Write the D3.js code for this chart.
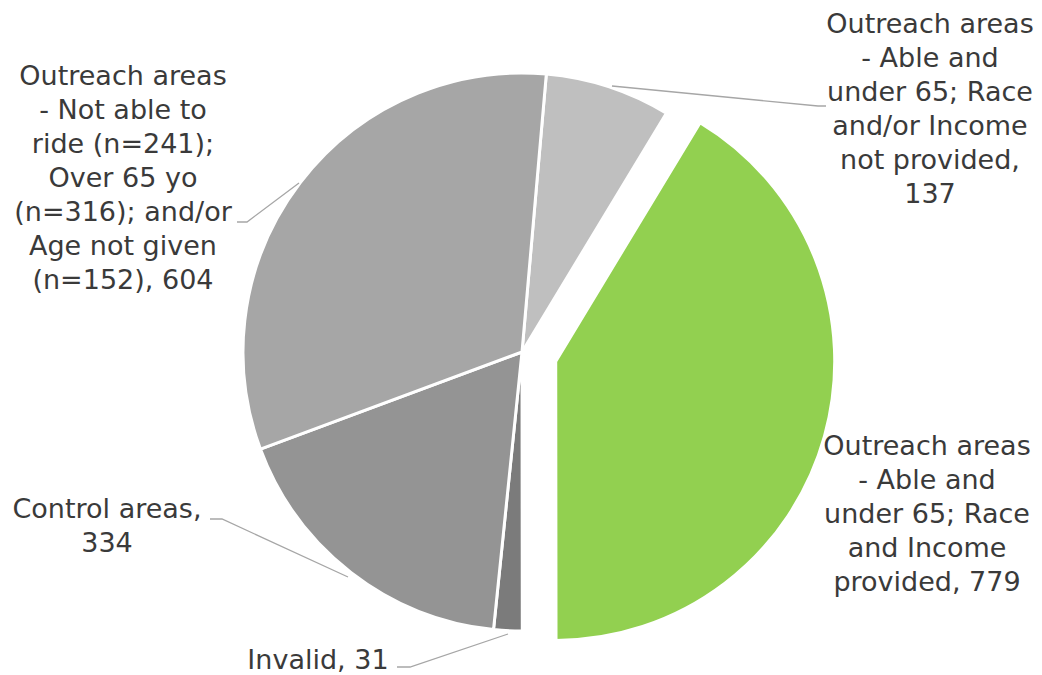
<!DOCTYPE html>
<html>
<head>
<meta charset="utf-8">
<script src="https://cdn.jsdelivr.net/npm/d3@7"></script>
<style>
  html, body { margin: 0; padding: 0; background: #fff; }
  svg { display: block; }
  text { font-family: "DejaVu Sans", Verdana, sans-serif; fill: #3a3a3a; }
</style>
</head>
<body>
<svg id="chart" width="1042" height="675"></svg>
<script>
// Survey responses by group
const categories = [
  "Outreach areas - Able and under 65; Race and/or Income not provided",
  "Outreach areas - Able and under 65; Race and Income provided",
  "Invalid",
  "Control areas",
  "Outreach areas - Not able to ride (n=241); Over 65 yo (n=316); and/or Age not given (n=152)"
];
const values = [137, 779, 31, 334, 604];
const colors = ["#bfbfbf", "#92d050", "#7b7b7b", "#949494", "#a6a6a6"];
const exploded = [false, true, false, false, false];

// Label text, broken into lines as displayed
const labelLines = [
  ["Outreach areas", "- Able and", "under 65; Race", "and/or Income", "not provided,", "137"],
  ["Outreach areas", "- Able and", "under 65; Race", "and Income", "provided, 779"],
  ["Invalid, 31"],
  ["Control areas,", "334"],
  ["Outreach areas", "- Not able to", "ride (n=241);", "Over 65 yo", "(n=316); and/or", "Age not given", "(n=152), 604"]
];

// Layout
const cx = 522, cy = 352, radius = 279, explode = 35;
const startDeg = 5;
const lineH = 34;
const fontSize = 27;

// Label anchor (center x, first baseline y) and leader paths [slice point, elbow, end]
const labelPos = [
  { x: 930, y: 33 },
  { x: 927, y: 455 },
  { x: 318, y: 669 },
  { x: 107, y: 518 },
  { x: 123, y: 85 }
];
const leaders = [
  [[612, 86], [818, 106], [826, 106]],
  null,
  [[508, 634], [410, 667], [397, 667]],
  [[348, 577], [222, 519], [210, 519]],
  [[299, 183], [247, 222], [237, 222]]
];

const svg = d3.select("#chart");

const pie = d3.pie()
  .sort(null)
  .value(d => d)
  .startAngle(startDeg * Math.PI / 180)
  .endAngle(startDeg * Math.PI / 180 + 2 * Math.PI);

const arcs = pie(values);
const arc = d3.arc().innerRadius(0).outerRadius(radius);

const g = svg.append("g").attr("transform", `translate(${cx},${cy})`);

g.selectAll("path.slice")
  .data(arcs)
  .join("path")
  .attr("class", "slice")
  .attr("d", arc)
  .attr("fill", (d, i) => colors[i])
  .attr("stroke", "#fff")
  .attr("stroke-width", 3)
  .attr("stroke-linejoin", "round")
  .attr("transform", (d, i) => {
    if (!exploded[i]) return null;
    const mid = (d.startAngle + d.endAngle) / 2;
    return `translate(${explode * Math.sin(mid)},${-explode * Math.cos(mid)})`;
  });

// Leader lines
const line = d3.line();
svg.selectAll("path.leader")
  .data(leaders.filter(d => d))
  .join("path")
  .attr("class", "leader")
  .attr("d", d => line(d))
  .attr("fill", "none")
  .attr("stroke", "#a6a6a6")
  .attr("stroke-width", 1.3);

// Labels
labelLines.forEach((lines, i) => {
  const t = svg.append("text")
    .attr("text-anchor", "middle")
    .attr("font-size", fontSize);
  lines.forEach((s, k) => {
    t.append("tspan")
      .attr("x", labelPos[i].x)
      .attr("y", labelPos[i].y + k * lineH)
      .text(s);
  });
});
</script>
</body>
</html>
